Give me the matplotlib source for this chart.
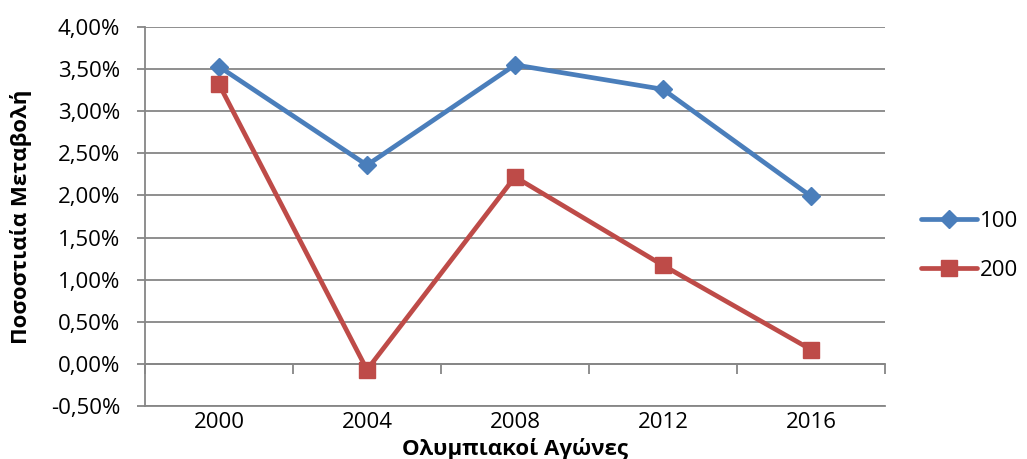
import matplotlib
matplotlib.use("Agg")
import matplotlib.pyplot as plt
from matplotlib.ticker import FuncFormatter, FixedLocator

# Olympic games and percentage change per distance
years = ["2000", "2004", "2008", "2012", "2016"]
change_100 = [3.53, 2.36, 3.55, 3.26, 1.99]
change_200 = [3.32, -0.07, 2.22, 1.17, 0.17]
series_names = ["100", "200"]

plt.rcParams["font.family"] = ["Open Sans", "DejaVu Sans"]
FS = 16
GRID = "#868686"
BLUE = "#4A7EBB"
RED = "#BE4B48"

fig = plt.figure(figsize=(10.27, 4.59), dpi=100)
ax = fig.add_axes([145 / 1027, 53 / 459, 740 / 1027, 379 / 459])

x = list(range(len(years)))
ax.plot(x, change_100, color=BLUE, lw=3.4, marker="D", ms=9.5,
        mec=BLUE, mfc=BLUE, label=series_names[0], solid_capstyle="round")
ax.plot(x, change_200, color=RED, lw=3.4, marker="s", ms=11,
        mec=RED, mfc=RED, label=series_names[1], solid_capstyle="round")

ax.set_xlim(-0.5, len(years) - 0.5)
ax.set_ylim(-0.5, 4.0)

yt = [i * 0.5 - 0.5 for i in range(10)]
ax.set_yticks(yt)
ax.yaxis.set_major_formatter(FuncFormatter(lambda v, p: f"{v:.2f}%".replace(".", ",")))
ax.grid(axis="y", color=GRID, lw=1.3)
ax.set_axisbelow(True)

ax.set_xticks(x)
ax.set_xticklabels(years)
ax.tick_params(axis="x", length=0, pad=4, labelsize=FS)
ax.tick_params(axis="y", length=6, width=1.3, color=GRID, direction="out", pad=12, labelsize=FS)

for s in ("top", "right"):
    ax.spines[s].set_visible(False)
ax.spines["left"].set_color(GRID)
ax.spines["left"].set_linewidth(1.3)
ax.spines["bottom"].set_color(GRID)
ax.spines["bottom"].set_linewidth(1.3)

# category axis crossing at zero, with tick marks between categories
zero_ax = ax.secondary_xaxis(0.5 / 4.5)
zero_ax.xaxis.set_major_locator(FixedLocator([i - 0.5 for i in range(len(years) + 1)]))
zero_ax.tick_params(axis="x", length=7, width=1.3, color=GRID, direction="out", labelbottom=False)
zero_ax.spines["bottom"].set_color(GRID)
zero_ax.spines["bottom"].set_linewidth(1.3)

ax.set_xlabel("Ολυμπιακοί Αγώνες", fontsize=FS, fontweight="bold", labelpad=4)
ax.set_ylabel("Ποσοστιαία Μεταβολή", fontsize=FS, fontweight="bold")
ax.yaxis.set_label_coords((32 - 145) / 740, 0.5)

fig.legend(loc="center left", bbox_to_anchor=(921 / 1027, (459 - 246) / 459), frameon=False,
           fontsize=FS, handlelength=2.5, handletextpad=0.15, labelspacing=1.25,
           borderaxespad=0, borderpad=0)

fig.savefig("out.png", dpi=100)
